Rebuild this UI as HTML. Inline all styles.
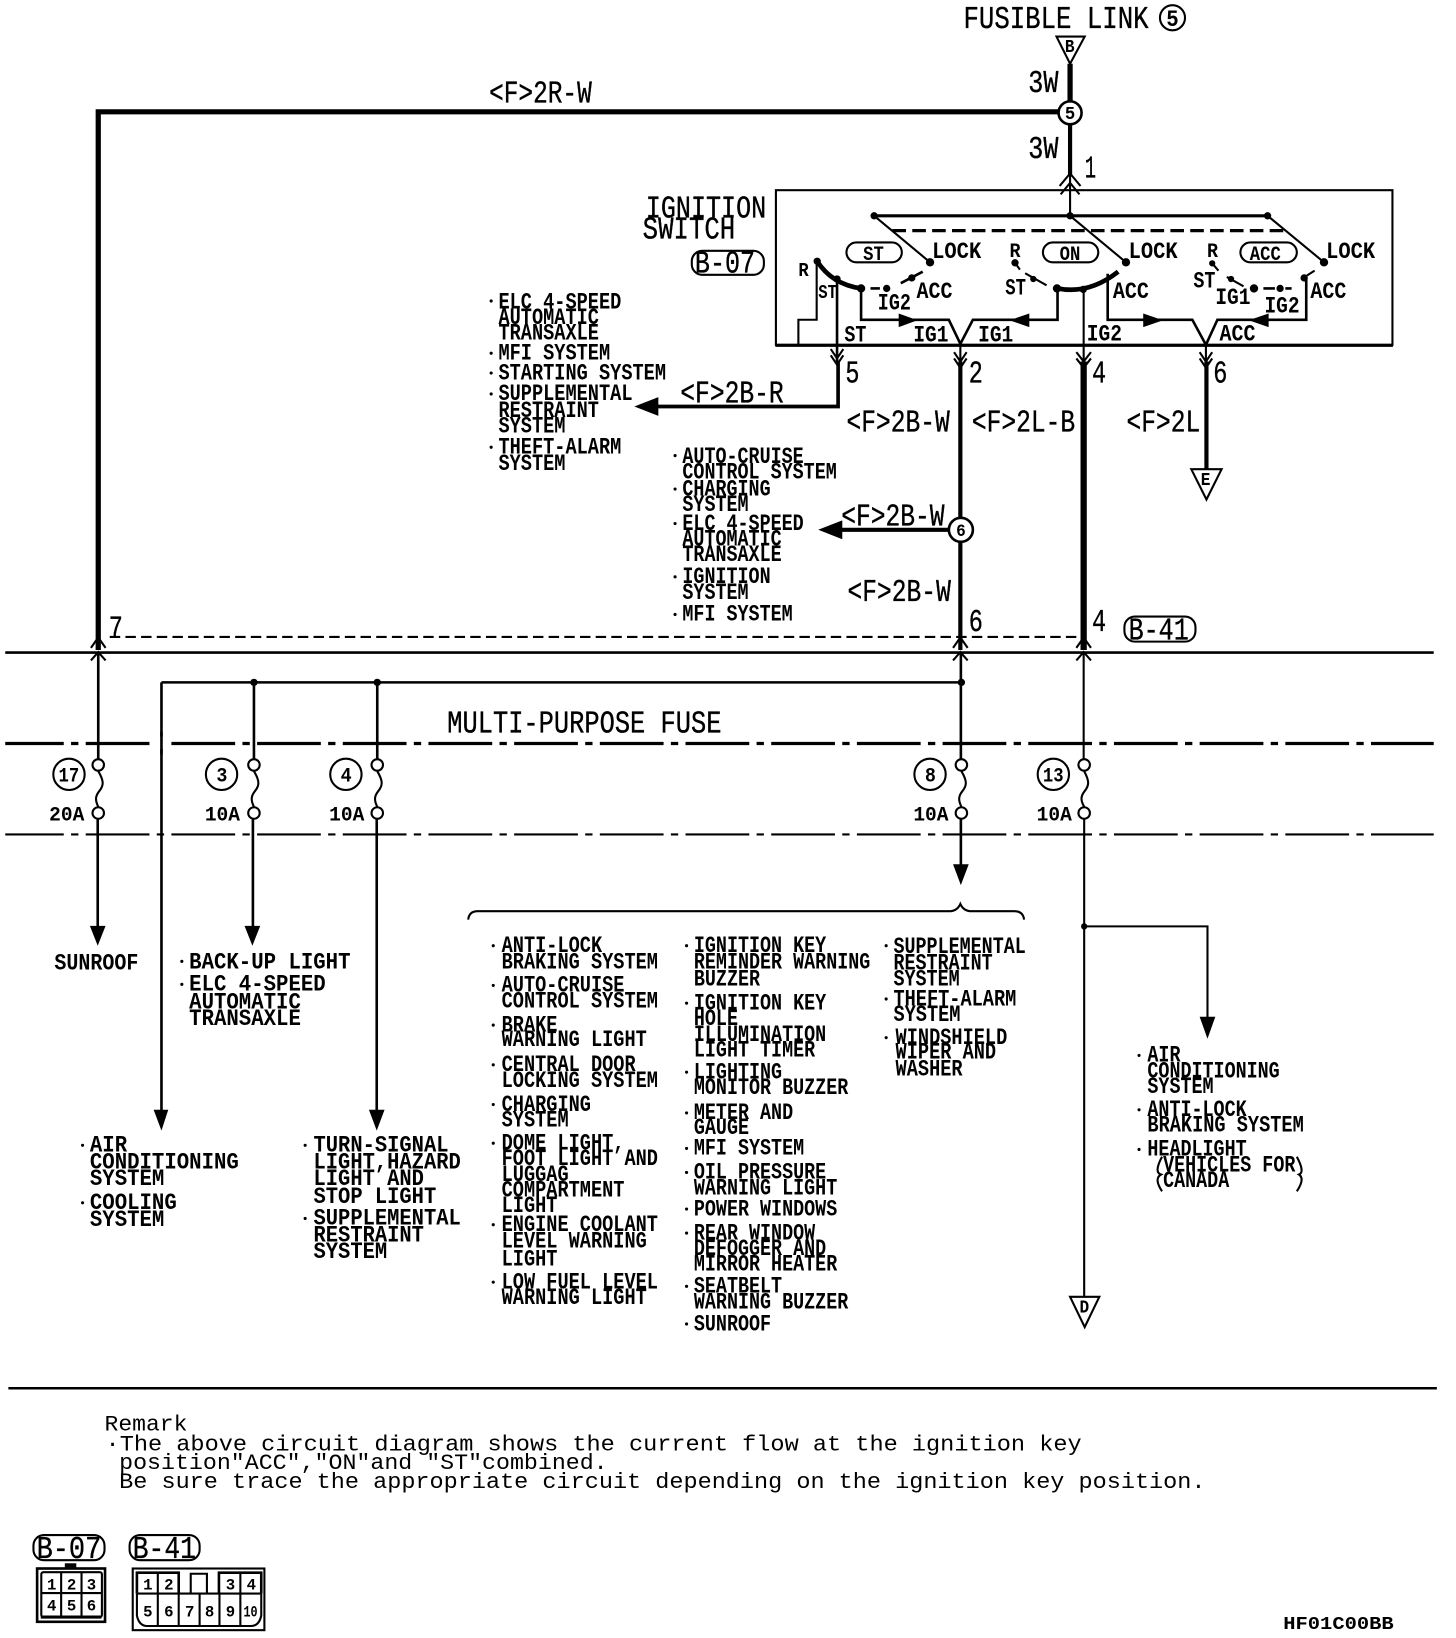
<!DOCTYPE html>
<html>
<head>
<meta charset="utf-8">
<title>Ignition switch circuit diagram</title>
<style>
html,body{margin:0;padding:0;background:#fff}
svg{display:block}
text{font-family:"Liberation Mono",monospace;fill:#000;white-space:pre}
.b{font-size:22px;font-weight:bold}
.n{font-size:30px;stroke:#000;stroke-width:.35px}
.r{font-size:21px}
.w{fill:none;stroke:#000;stroke-linecap:butt;stroke-linejoin:miter}
</style>
</head>
<body>
<svg xmlns="http://www.w3.org/2000/svg" width="1456" height="1638" viewBox="0 0 1393.3 1567.5">
<rect x="0" y="0" width="1393.3" height="1567.5" fill="#fff"/>

<!-- top labels -->
<text class="n" transform="matrix(.82 0 0 1 922 27)">FUSIBLE LINK</text>
<circle cx="1122" cy="17" r="12" class="w" stroke-width="2"/>
<text class="b" transform="matrix(.9 0 0 1 1116 25)">5</text>
<polygon points="1011,35 1038,35 1024,61" class="w" stroke-width="2"/>
<text class="b" transform="matrix(.7 0 0 .8 1019 50)">B</text>
<text class="n" transform="matrix(.8 0 0 1 984 88)">3W</text>
<text class="n" transform="matrix(.8 0 0 1 984 151)">3W</text>
<text class="n" transform="matrix(.78 0 0 1 468 98)">&lt;F&gt;2R-W</text>
<text class="n" transform="matrix(.6 0 0 1 1038 170)">1</text>

<!-- main feed -->
<path class="w" stroke-width="5" d="M1024 61V97M1013 107H94V622"/>
<path class="w" stroke-width="4" d="M1024 119V168"/>
<path class="w" stroke-width="2" d="M1024 165V206M1014 178L1024 166L1034 178M1015 186L1024 175L1033 186"/>
<circle cx="1024" cy="108" r="11" fill="#fff" stroke="#000" stroke-width="2.5"/>
<text class="b" transform="matrix(.75 0 0 .8 1019 114)">5</text>

<!-- ignition switch -->
<text class="n" transform="matrix(.8 0 0 1 618 208)">IGNITION</text>
<text class="n" transform="matrix(.82 0 0 1 615 228)">SWITCH</text>
<rect x="662" y="240" width="69" height="23" rx="10" class="w" stroke-width="2"/>
<text class="n" transform="matrix(.8 0 0 1 665 261)">B-07</text>
<rect x="742.5" y="182" width="590" height="148" class="w" stroke-width="2"/>
<path class="w" stroke-width="3" d="M742 330.500H1333"/>
<path class="w" stroke-width="3" d="M836 206.500H1214"/>
<path class="w" stroke-width="3" stroke-dasharray="13 6" d="M854 220.700H1232"/>
<circle cx="836.500" cy="206.500" r="3.500"/><circle cx="1024" cy="206.500" r="3.500"/><circle cx="1213" cy="206.500" r="3.500"/>
<path class="w" stroke-width="2" d="M836.500 206.500L890 251M1024 206.500L1077.500 251M1213 206.500L1267 251"/>
<circle cx="890" cy="251" r="4"/><circle cx="1077.500" cy="251" r="4"/><circle cx="1267" cy="251" r="4"/>

<rect x="810" y="232" width="53" height="19" rx="9.500" class="w" stroke-width="2"/>
<rect x="998" y="232" width="53" height="19" rx="9.500" class="w" stroke-width="2"/>
<rect x="1187" y="232" width="54" height="19" rx="9.500" class="w" stroke-width="2"/>
<text class="b" transform="matrix(.75 0 0 .9 826 249)">ST</text>
<text class="b" transform="matrix(.75 0 0 .9 1014 249)">ON</text>
<text class="b" transform="matrix(.75 0 0 .9 1196 249)">ACC</text>
<text class="b" transform="matrix(.89 0 0 1 892 247)">LOCK</text>
<text class="b" transform="matrix(.89 0 0 1 1080 247)">LOCK</text>
<text class="b" transform="matrix(.89 0 0 1 1269 247)">LOCK</text>

<!-- left switch -->
<path class="w" stroke-width="4.500" d="M782 250Q796 272 824 276"/>
<circle cx="782" cy="250" r="3.500"/><circle cx="801" cy="267" r="3.500"/>
<circle cx="824" cy="276" r="4"/>
<path class="w" stroke-width="2.500" d="M833 276H842"/>
<circle cx="848.500" cy="276" r="3.500"/>
<path class="w" stroke-width="2.500" d="M862 271L883 260"/>
<circle cx="872.500" cy="266" r="3.500"/>
<path class="w" stroke-width="2" d="M781.500 250V306H764V330"/>
<path class="w" stroke-width="2.500" d="M801 267V348M824 276V306H908L919 329L931 306H1012V276M1060 262V306H1141L1154 330L1165 306H1250V265"/>
<polygon points="860,300 878,306.500 860,313"/>
<polygon points="985,300 966,306.500 985,313"/>
<polygon points="1094,300 1113,306.500 1094,313"/>
<polygon points="1214,300 1195,306.500 1214,313"/>

<!-- middle switch -->
<circle cx="971.300" cy="251.500" r="3.500"/>
<path class="w" stroke-width="2" d="M971.300 251.500L976 258M981 261.500L1001.500 273"/>
<circle cx="988.800" cy="267" r="3"/>
<path class="w" stroke-width="4.500" d="M1012 276Q1042 282 1070 260"/>
<circle cx="1011.500" cy="276" r="4"/>
<circle cx="1036.600" cy="277" r="3.500"/>

<!-- right switch -->
<circle cx="1160" cy="252" r="3"/>
<path class="w" stroke-width="2" d="M1160 252L1166 259M1174 265L1190 274M1247 266L1258 259"/>
<circle cx="1178" cy="267" r="3"/>
<circle cx="1200" cy="276" r="4"/>
<path class="w" stroke-width="2.500" d="M1209 276H1220M1230 276H1236"/>
<circle cx="1225" cy="276" r="3.500"/>
<circle cx="1248" cy="266" r="3.500"/>

<!-- switch labels -->
<text class="b" transform="matrix(.75 0 0 .85 764 264)">R</text>
<text class="b" transform="matrix(.68 0 0 .85 783 285)">ST</text>
<text class="b" transform="matrix(.8 0 0 1 840 296)">IG2</text>
<text class="b" transform="matrix(.87 0 0 1 877 285)">ACC</text>
<text class="b" transform="matrix(.8 0 0 1 808 327)">ST</text>
<text class="b" transform="matrix(.85 0 0 1 874 327)">IG1</text>
<text class="b" transform="matrix(.85 0 0 1 936 327)">IG1</text>
<text class="b" transform="matrix(.8 0 0 .9 966 246)">R</text>
<text class="b" transform="matrix(.75 0 0 1 962 282)">ST</text>
<text class="b" transform="matrix(.87 0 0 1 1065 285)">ACC</text>
<text class="b" transform="matrix(.85 0 0 1 1040 326)">IG2</text>
<text class="b" transform="matrix(.8 0 0 .9 1155 246)">R</text>
<text class="b" transform="matrix(.8 0 0 1 1142 275)">ST</text>
<text class="b" transform="matrix(.85 0 0 1 1163 291)">IG1</text>
<text class="b" transform="matrix(.85 0 0 1 1210 299)">IG2</text>
<text class="b" transform="matrix(.87 0 0 1 1254 285)">ACC</text>
<text class="b" transform="matrix(.87 0 0 1 1167 326)">ACC</text>

<!-- connectors below switch -->
<path class="w" stroke-width="2" d="M795 334L801 343L807 334M795 340L801 349L807 340M913 337L919 346L925 337M913 343L919 352L925 343M1030 337L1037 346L1044 337M1030 343L1037 352L1044 343M1148 337L1154 346L1160 337M1148 343L1154 352L1160 343M1037 277V348M1154 330V348M919 330V348"/>
<path class="w" stroke-width="3.500" d="M802 346V389H625"/>
<polygon points="630,380 607,389 630,398"/>
<path class="w" stroke-width="4" d="M919 346V622"/>
<path class="w" stroke-width="6" d="M1037 346V622"/>
<path class="w" stroke-width="4" d="M1154.500 346V449"/>
<polygon points="1140,449 1169,449 1154.500,478" fill="#fff" stroke="#000" stroke-width="2"/>
<text class="b" transform="matrix(.7 0 0 .8 1149 464)">E</text>

<text class="n" transform="matrix(.75 0 0 1 809 366)">5</text>
<text class="n" transform="matrix(.75 0 0 1 927 366)">2</text>
<text class="n" transform="matrix(.75 0 0 1 1045 366)">4</text>
<text class="n" transform="matrix(.75 0 0 1 1161 366)">6</text>
<text class="n" transform="matrix(.785 0 0 1 651 385)">&lt;F&gt;2B-R</text>
<text class="n" transform="matrix(.785 0 0 1 810 413)">&lt;F&gt;2B-W</text>
<text class="n" transform="matrix(.785 0 0 1 930 413)">&lt;F&gt;2L-B</text>
<text class="n" transform="matrix(.785 0 0 1 1078 413)">&lt;F&gt;2L</text>
<text class="n" transform="matrix(.785 0 0 1 805 503)">&lt;F&gt;2B-W</text>
<text class="n" transform="matrix(.785 0 0 1 811 575)">&lt;F&gt;2B-W</text>

<!-- node 6 -->
<path class="w" stroke-width="4" d="M908 507H802"/>
<polygon points="806,498 783,507 806,516"/>
<circle cx="919.500" cy="507" r="11.500" fill="#fff" stroke="#000" stroke-width="2.500"/>
<text class="b" transform="matrix(.7 0 0 .75 915 513)">6</text>

<!-- connector B-41 row -->
<text class="n" transform="matrix(.75 0 0 1 104 610)">7</text>
<text class="n" transform="matrix(.75 0 0 1 927 604)">6</text>
<text class="n" transform="matrix(.75 0 0 1 1045 604)">4</text>
<rect x="1076" y="590" width="68" height="24" rx="10" class="w" stroke-width="2"/>
<text class="n" transform="matrix(.8 0 0 1 1080 612)">B-41</text>
<path class="w" stroke-width="2" stroke-dasharray="10 5" d="M105 609.500H1037"/>
<path class="w" stroke-width="2.500" d="M5 624.500H1372"/>
<path class="w" stroke-width="2" d="M87 620L94 610L101 620M87 632L94 624L101 632M912 620L919 610L926 620M912 632L919 624L926 632M1030 620L1037 610L1044 620M1030 632L1037 624L1044 632"/>

<!-- bus and fuses -->
<path class="w" stroke-width="2.500" d="M94 624V726M154.500 653H920M154.500 653V1065M243 653V726M361 653V726M919.500 624V726"/>
<path class="w" stroke-width="2" d="M1037 624V726"/>
<circle cx="243" cy="653" r="3.500"/><circle cx="361" cy="653" r="3.500"/><circle cx="920" cy="653" r="3.500"/>
<path class="w" stroke-width="3" stroke-dasharray="61 7 7 7" stroke-dashoffset="5" d="M5 711.500H1372"/>
<path class="w" stroke-width="2" stroke-dasharray="61 7 7 7" stroke-dashoffset="5" d="M5 798.500H1372"/>
<rect x="145" y="705" width="18" height="12" fill="#fff"/>
<path class="w" stroke-width="2.500" d="M154.500 700V722"/>

<g class="w" stroke-width="2">
<circle cx="94" cy="732" r="5.500"/><circle cx="94" cy="778" r="5.500"/>
<path d="M94 738C100 748 99 752 95 757C91 762 91 766 94 772"/>
<circle cx="243" cy="732" r="5.500"/><circle cx="243" cy="778" r="5.500"/>
<path d="M243 738C249 748 248 752 244 757C240 762 240 766 243 772"/>
<circle cx="361" cy="732" r="5.500"/><circle cx="361" cy="778" r="5.500"/>
<path d="M361 738C367 748 366 752 362 757C358 762 358 766 361 772"/>
<circle cx="920" cy="732" r="5.500"/><circle cx="920" cy="778" r="5.500"/>
<path d="M920 738C926 748 925 752 921 757C917 762 917 766 920 772"/>
<circle cx="1037.500" cy="732" r="5.500"/><circle cx="1037.500" cy="778" r="5.500"/>
<path d="M1037.500 738C1043 748 1042 752 1038 757C1034 762 1034 766 1037.500 772"/>
</g>
<path class="w" stroke-width="2.500" d="M93.500 784V888M242 784V888M360.500 784V1065M919.500 784V830"/>
<path class="w" stroke-width="2" d="M1037.500 784V1242M1037.500 886.500H1155.500V975"/>
<circle cx="1037.500" cy="886.500" r="3"/>
<polygon points="86,886 101,886 93.500,905"/>
<polygon points="234,886 249,886 241.500,905"/>
<polygon points="912,827 927,827 919.500,847"/>
<polygon points="1148,973 1163,973 1155.500,994"/>
<polygon points="147,1062 161,1062 154.500,1082"/>
<polygon points="353,1062 368,1062 360.500,1082"/>
<polygon points="1024,1241 1052,1241 1038,1270" fill="#fff" stroke="#000" stroke-width="2"/>
<text class="b" transform="matrix(.7 0 0 .8 1033 1256)">D</text>

<text class="n" transform="matrix(.81 0 0 1 428 701)">MULTI-PURPOSE FUSE</text>

<g class="w" stroke-width="2">
<circle cx="66" cy="741" r="15"/><circle cx="212" cy="741" r="15"/><circle cx="331" cy="741" r="15"/><circle cx="890" cy="741" r="15"/><circle cx="1008" cy="741" r="15"/>
</g>
<text class="b" transform="matrix(.75 0 0 .9 56 748)">17</text>
<text class="b" transform="matrix(.8 0 0 .9 207 748)">3</text>
<text class="b" transform="matrix(.8 0 0 .9 326 748)">4</text>
<text class="b" transform="matrix(.8 0 0 .9 885 748)">8</text>
<text class="b" transform="matrix(.75 0 0 .9 998 748)">13</text>
<text class="b" transform="matrix(.85 0 0 .9 47 785)">20A</text>
<text class="b" transform="matrix(.85 0 0 .9 196 785)">10A</text>
<text class="b" transform="matrix(.85 0 0 .9 315 785)">10A</text>
<text class="b" transform="matrix(.85 0 0 .9 874 785)">10A</text>
<text class="b" transform="matrix(.85 0 0 .9 992 785)">10A</text>

<path class="w" stroke-width="2" d="M448 880Q449 872 457 872H908Q916 872 919 865Q922 872 930 872H971Q979 872 980 880"/>

<!-- bullets -->
<g>
<circle cx="470" cy="288" r="1.500"/><circle cx="470" cy="338" r="1.500"/><circle cx="470" cy="357" r="1.500"/><circle cx="470" cy="377" r="1.500"/><circle cx="470" cy="428" r="1.500"/>
<circle cx="646" cy="436" r="1.500"/><circle cx="646" cy="468" r="1.500"/><circle cx="646" cy="501" r="1.500"/><circle cx="646" cy="552" r="1.500"/><circle cx="646" cy="588" r="1.500"/>
<circle cx="174" cy="920" r="1.500"/><circle cx="174" cy="942" r="1.500"/>
<circle cx="79" cy="1096" r="1.500"/><circle cx="79" cy="1151" r="1.500"/>
<circle cx="292" cy="1096" r="1.500"/><circle cx="292" cy="1166" r="1.500"/>
<circle cx="472" cy="905" r="1.500"/><circle cx="472" cy="943" r="1.500"/><circle cx="472" cy="981" r="1.500"/><circle cx="472" cy="1019" r="1.500"/><circle cx="472" cy="1057" r="1.500"/><circle cx="472" cy="1094" r="1.500"/><circle cx="472" cy="1172" r="1.500"/><circle cx="472" cy="1227" r="1.500"/>
<circle cx="657" cy="905" r="1.500"/><circle cx="657" cy="960" r="1.500"/><circle cx="657" cy="1026" r="1.500"/><circle cx="657" cy="1065" r="1.500"/><circle cx="657" cy="1099" r="1.500"/><circle cx="657" cy="1122" r="1.500"/><circle cx="657" cy="1157" r="1.500"/><circle cx="657" cy="1180" r="1.500"/><circle cx="657" cy="1231" r="1.500"/><circle cx="657" cy="1267" r="1.500"/>
<circle cx="848" cy="905" r="1.500"/><circle cx="848" cy="956" r="1.500"/><circle cx="848" cy="993" r="1.500"/>
<circle cx="1090" cy="1010" r="1.500"/><circle cx="1090" cy="1062" r="1.500"/><circle cx="1090" cy="1100" r="1.500"/>
</g>

<!-- lists -->
<g class="b">
<text transform="matrix(.81 0 0 1 477 295)">ELC 4-SPEED</text>
<text transform="matrix(.81 0 0 1 477 310)">AUTOMATIC</text>
<text transform="matrix(.81 0 0 1 477 325)">TRANSAXLE</text>
<text transform="matrix(.81 0 0 1 477 344)">MFI SYSTEM</text>
<text transform="matrix(.81 0 0 1 477 363)">STARTING SYSTEM</text>
<text transform="matrix(.81 0 0 1 477 383)">SUPPLEMENTAL</text>
<text transform="matrix(.81 0 0 1 477 399)">RESTRAINT</text>
<text transform="matrix(.81 0 0 1 477 414)">SYSTEM</text>
<text transform="matrix(.81 0 0 1 477 434)">THEFT-ALARM</text>
<text transform="matrix(.81 0 0 1 477 450)">SYSTEM</text>

<text transform="matrix(.8 0 0 1 653 443)">AUTO-CRUISE</text>
<text transform="matrix(.8 0 0 1 653 458)">CONTROL SYSTEM</text>
<text transform="matrix(.8 0 0 1 653 474)">CHARGING</text>
<text transform="matrix(.8 0 0 1 653 489)">SYSTEM</text>
<text transform="matrix(.8 0 0 1 653 507)">ELC 4-SPEED</text>
<text transform="matrix(.8 0 0 1 653 522)">AUTOMATIC</text>
<text transform="matrix(.8 0 0 1 653 537)">TRANSAXLE</text>
<text transform="matrix(.8 0 0 1 653 558)">IGNITION</text>
<text transform="matrix(.8 0 0 1 653 573)">SYSTEM</text>
<text transform="matrix(.8 0 0 1 653 594)">MFI SYSTEM</text>

<text transform="matrix(.87 0 0 1 52 928)">SUNROOF</text>
<text transform="matrix(.9 0 0 1 181 927)">BACK-UP LIGHT</text>
<text transform="matrix(.9 0 0 1 181 948)">ELC 4-SPEED</text>
<text transform="matrix(.9 0 0 1 181 965)">AUTOMATIC</text>
<text transform="matrix(.9 0 0 1 181 981)">TRANSAXLE</text>

<text transform="matrix(.9 0 0 1 86 1102)">AIR</text>
<text transform="matrix(.9 0 0 1 86 1118)">CONDITIONING</text>
<text transform="matrix(.9 0 0 1 86 1134)">SYSTEM</text>
<text transform="matrix(.9 0 0 1 86 1157)">COOLING</text>
<text transform="matrix(.9 0 0 1 86 1173)">SYSTEM</text>

<text transform="matrix(.89 0 0 1 300 1102)">TURN-SIGNAL</text>
<text transform="matrix(.89 0 0 1 300 1118)">LIGHT,HAZARD</text>
<text transform="matrix(.89 0 0 1 300 1134)">LIGHT AND</text>
<text transform="matrix(.89 0 0 1 300 1151)">STOP LIGHT</text>
<text transform="matrix(.89 0 0 1 300 1172)">SUPPLEMENTAL</text>
<text transform="matrix(.89 0 0 1 300 1188)">RESTRAINT</text>
<text transform="matrix(.89 0 0 1 300 1204)">SYSTEM</text>

<text transform="matrix(.81 0 0 1 480 911)">ANTI-LOCK</text>
<text transform="matrix(.81 0 0 1 480 927)">BRAKING SYSTEM</text>
<text transform="matrix(.81 0 0 1 480 949)">AUTO-CRUISE</text>
<text transform="matrix(.81 0 0 1 480 964)">CONTROL SYSTEM</text>
<text transform="matrix(.81 0 0 1 480 987)">BRAKE</text>
<text transform="matrix(.81 0 0 1 480 1001)">WARNING LIGHT</text>
<text transform="matrix(.81 0 0 1 480 1025)">CENTRAL DOOR</text>
<text transform="matrix(.81 0 0 1 480 1040)">LOCKING SYSTEM</text>
<text transform="matrix(.81 0 0 1 480 1063)">CHARGING</text>
<text transform="matrix(.81 0 0 1 480 1078)">SYSTEM</text>
<text transform="matrix(.81 0 0 1 480 1100)">DOME LIGHT,</text>
<text transform="matrix(.81 0 0 1 480 1115)">FOOT LIGHT AND</text>
<text transform="matrix(.81 0 0 1 480 1130)">LUGGAG</text>
<text transform="matrix(.81 0 0 1 480 1145)">COMPARTMENT</text>
<text transform="matrix(.81 0 0 1 480 1160)">LIGHT</text>
<text transform="matrix(.81 0 0 1 480 1178)">ENGINE COOLANT</text>
<text transform="matrix(.81 0 0 1 480 1194)">LEVEL WARNING</text>
<text transform="matrix(.81 0 0 1 480 1211)">LIGHT</text>
<text transform="matrix(.81 0 0 1 480 1233)">LOW FUEL LEVEL</text>
<text transform="matrix(.81 0 0 1 480 1248)">WARNING LIGHT</text>

<text transform="matrix(.8 0 0 1 664 911)">IGNITION KEY</text>
<text transform="matrix(.8 0 0 1 664 927)">REMINDER WARNING</text>
<text transform="matrix(.8 0 0 1 664 943)">BUZZER</text>
<text transform="matrix(.8 0 0 1 664 966)">IGNITION KEY</text>
<text transform="matrix(.8 0 0 1 664 981)">HOLE</text>
<text transform="matrix(.8 0 0 1 664 996)">ILLUMINATION</text>
<text transform="matrix(.8 0 0 1 664 1011)">LIGHT TIMER</text>
<text transform="matrix(.8 0 0 1 664 1032)">LIGHTING</text>
<text transform="matrix(.8 0 0 1 664 1047)">MONITOR BUZZER</text>
<text transform="matrix(.8 0 0 1 664 1071)">METER AND</text>
<text transform="matrix(.8 0 0 1 664 1085)">GAUGE</text>
<text transform="matrix(.8 0 0 1 664 1105)">MFI SYSTEM</text>
<text transform="matrix(.8 0 0 1 664 1128)">OIL PRESSURE</text>
<text transform="matrix(.8 0 0 1 664 1143)">WARNING LIGHT</text>
<text transform="matrix(.8 0 0 1 664 1163)">POWER WINDOWS</text>
<text transform="matrix(.8 0 0 1 664 1186)">REAR WINDOW</text>
<text transform="matrix(.8 0 0 1 664 1201)">DEFOGGER AND</text>
<text transform="matrix(.8 0 0 1 664 1216)">MIRROR HEATER</text>
<text transform="matrix(.8 0 0 1 664 1237)">SEATBELT</text>
<text transform="matrix(.8 0 0 1 664 1252)">WARNING BUZZER</text>
<text transform="matrix(.8 0 0 1 664 1273)">SUNROOF</text>

<text transform="matrix(.8 0 0 1 855 912)">SUPPLEMENTAL</text>
<text transform="matrix(.8 0 0 1 855 928)">RESTRAINT</text>
<text transform="matrix(.8 0 0 1 855 943)">SYSTEM</text>
<text transform="matrix(.81 0 0 1 855 962)">THEFT-ALARM</text>
<text transform="matrix(.81 0 0 1 855 977)">SYSTEM</text>
<text transform="matrix(.81 0 0 1 857 999)">WINDSHIELD</text>
<text transform="matrix(.81 0 0 1 857 1013)">WIPER AND</text>
<text transform="matrix(.81 0 0 1 857 1029)">WASHER</text>

<text transform="matrix(.8 0 0 1 1098 1016)">AIR</text>
<text transform="matrix(.8 0 0 1 1098 1031)">CONDITIONING</text>
<text transform="matrix(.8 0 0 1 1098 1046)">SYSTEM</text>
<text transform="matrix(.8 0 0 1 1098 1068)">ANTI-LOCK</text>
<text transform="matrix(.81 0 0 1 1098 1083)">BRAKING SYSTEM</text>
<text transform="matrix(.8 0 0 1 1098 1106)">HEADLIGHT</text>
<text transform="matrix(.8 0 0 1 1113 1121)">VEHICLES FOR</text>
<text transform="matrix(.8 0 0 1 1113 1136)">CANADA</text>
</g>
<path class="w" stroke-width="2" d="M1112 1107Q1104 1122 1111 1124Q1104 1128 1112 1140M1241 1107Q1249 1122 1243 1124Q1249 1128 1241 1140"/>

<!-- bottom rule and remark -->
<path class="w" stroke-width="2.500" d="M8 1328.500H1375"/>
<text class="r" transform="matrix(1.05 0 0 1 100 1369)">Remark</text>
<text class="r" transform="matrix(1.075 0 0 1 101 1388)">·The above circuit diagram shows the current flow at the ignition key</text>
<text class="r" transform="matrix(1.06 0 0 1 114 1406)">position"ACC","ON"and "ST"combined.</text>
<text class="r" transform="matrix(1.072 0 0 1 114 1424)">Be sure trace the appropriate circuit depending on the ignition key position.</text>

<!-- connector faces -->
<rect x="32" y="1469" width="68" height="24" rx="10" class="w" stroke-width="2"/>
<text class="n" transform="matrix(.86 0 0 1 35 1491)">B-07</text>
<rect x="124" y="1469" width="67" height="24" rx="10" class="w" stroke-width="2"/>
<text class="n" transform="matrix(.84 0 0 1 127 1491)">B-41</text>

<rect x="35.500" y="1501" width="65" height="51" class="w" stroke-width="2.500"/>
<rect x="62" y="1496" width="11" height="4"/>
<path class="w" stroke-width="3" d="M39 1547.500H97"/>
<rect x="39.500" y="1504.500" width="58" height="43" rx="2" class="w" stroke-width="2"/>
<path class="w" stroke-width="2" d="M58.500 1504V1546M78 1504V1546M39 1524.500H98"/>
<g style="font-size:15px;font-weight:bold">
<text x="45" y="1521">1</text><text x="64" y="1521">2</text><text x="83" y="1521">3</text>
<text x="45" y="1541">4</text><text x="64" y="1541">5</text><text x="83" y="1541">6</text>
</g>

<rect x="127" y="1501" width="126" height="59" class="w" stroke-width="2"/>
<path class="w" stroke-width="2" d="M131 1525V1546Q133 1556 141 1556H240Q248 1556 250 1546V1525"/>
<path class="w" stroke-width="2.500" d="M131 1525V1505H171V1525M209.500 1525V1505H250V1525"/>
<path class="w" stroke-width="2" d="M131 1525H250M151 1505V1556M171 1525V1556M191 1525V1556M210 1525V1556M230 1505V1556M182.500 1525V1506H198V1525"/>
<g style="font-size:15px;font-weight:bold">
<text x="137" y="1521">1</text><text x="157" y="1521">2</text><text x="216" y="1521">3</text><text x="236" y="1521">4</text>
<text x="137" y="1547">5</text><text x="157" y="1547">6</text><text x="177" y="1547">7</text><text x="196" y="1547">8</text><text x="216" y="1547">9</text>
<text transform="matrix(.75 0 0 1 233 1547)">10</text>
</g>

<text class="b" transform="matrix(.89 0 0 .8 1228 1559)">HF01C00BB</text>
</svg>
</body>
</html>
